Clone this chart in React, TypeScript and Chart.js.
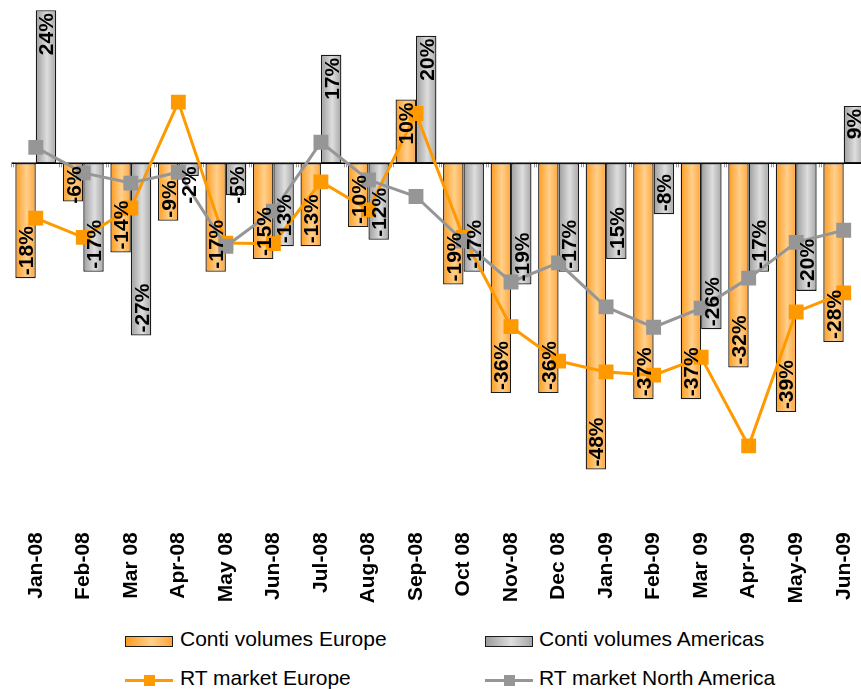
import React, { useEffect, useRef } from "react";
import { Chart, registerables } from "chart.js";

Chart.register(...registerables);

const categories = [
  "Jan-08", "Feb-08", "Mar 08", "Apr-08", "May 08", "Jun-08", "Jul-08", "Aug-08", "Sep-08",
  "Oct 08", "Nov-08", "Dec 08", "Jan-09", "Feb-09", "Mar 09", "Apr-09", "May-09", "Jun-09",
];
const contiEurope = [-18, -6, -14, -9, -17, -15, -13, -10, 10, -19, -36, -36, -48, -37, -37, -32, -39, -28];
const contiAmericas = [24, -17, -27, -2, -5, -13, 17, -12, 20, -17, -19, -17, -15, -8, -26, -17, -20, 9];
const rtEurope = [-8.6, -11.6, -7.0, 9.6, -12.5, -12.6, -2.9, -7.3, 7.8, -11.6, -25.6, -31.0, -32.7, -33.2, -30.4, -44.3, -23.3, -20.3];
const rtNorthAmerica = [2.5, -1.5, -3.1, -1.4, -13.0, -7.5, 3.3, -2.6, -5.2, -12.2, -18.6, -15.6, -22.5, -25.7, -22.7, -18.0, -12.4, -10.5];
const yMin = -55;
const yMax = 25;

const FONT = '"Liberation Sans", Arial, Helvetica, sans-serif';
const ORANGE = "#FF9900";
const GREY = "#969696";

function barGradient(edgeL: string, mid: string, edgeR: string) {
  return (c: any) => {
    const chart = c.chart;
    const meta = chart.getDatasetMeta(c.datasetIndex);
    const el: any = meta && meta.data ? meta.data[c.dataIndex] : null;
    if (!el || typeof el.x !== "number" || !isFinite(el.x) || !el.width) return mid;
    const g = chart.ctx.createLinearGradient(el.x - el.width / 2, 0, el.x + el.width / 2, 0);
    g.addColorStop(0, edgeL);
    g.addColorStop(0.55, mid);
    g.addColorStop(1, edgeR);
    return g;
  };
}

const zeroLinePlugin = {
  id: "zeroLine",
  beforeDatasetsDraw(chart: any) {
    const { ctx, chartArea, scales } = chart;
    const y0 = scales.y.getPixelForValue(0);
    const xs = scales.x;
    const step = xs.getPixelForValue(1) - xs.getPixelForValue(0);
    ctx.save();
    ctx.strokeStyle = "#999";
    ctx.lineWidth = 1;
    for (let i = 0; i <= categories.length; i++) {
      const bx = Math.round(xs.getPixelForValue(i) - step / 2);
      ctx.beginPath();
      ctx.moveTo(bx - 0.5, y0 - 1);
      ctx.lineTo(bx - 0.5, y0 + 4);
      ctx.moveTo(bx + 1.5, y0 - 1);
      ctx.lineTo(bx + 1.5, y0 + 4);
      ctx.stroke();
    }
    ctx.strokeStyle = "#000";
    ctx.lineWidth = 1.5;
    ctx.beginPath();
    ctx.moveTo(chartArea.left, y0);
    ctx.lineTo(chartArea.right, y0);
    ctx.stroke();
    ctx.restore();
  },
};

const barLabelPlugin = {
  id: "barLabels",
  afterDraw(chart: any) {
    const { ctx, scales } = chart;
    const y0 = scales.y.getPixelForValue(0);
    ctx.save();
    ctx.font = `bold 21px ${FONT}`;
    ctx.fillStyle = "#000";
    ctx.textBaseline = "alphabetic";
    [0, 1].forEach((di) => {
      const meta = chart.getDatasetMeta(di);
      const values = chart.data.datasets[di].data as number[];
      meta.data.forEach((el: any, i: number) => {
        const v = values[i];
        const text = `${v}%`;
        const w = ctx.measureText(text).width;
        ctx.save();
        if (v >= 0) {
          ctx.translate(el.x, el.y + 3);
          ctx.rotate(-Math.PI / 2);
          ctx.textAlign = "right";
        } else {
          const barLen = el.y - y0;
          let start = el.y - 3;
          if (w + 6 > barLen) start = y0 + 3 + w;
          ctx.translate(el.x, start);
          ctx.rotate(-Math.PI / 2);
          ctx.textAlign = "left";
        }
        ctx.fillText(text, 0, 7.5);
        ctx.restore();
      });
    });
    ctx.restore();
  },
};

export default function App() {
  const ref = useRef<HTMLCanvasElement | null>(null);

  useEffect(() => {
    if (!ref.current) return;
    const chart = new Chart(ref.current, {
      type: "bar",
      data: {
        labels: categories,
        datasets: [
          {
            type: "bar",
            label: "Conti volumes Europe",
            data: contiEurope,
            backgroundColor: barGradient("#FF9A1E", "#FFD08C", "#FFA53A"),
            borderColor: "#1a1a1a",
            borderWidth: 1.3,
            borderSkipped: false,
            order: 3,
          },
          {
            type: "bar",
            label: "Conti volumes Americas",
            data: contiAmericas,
            backgroundColor: barGradient("#9C9C9C", "#DEDEDE", "#A6A6A6"),
            borderColor: "#1a1a1a",
            borderWidth: 1.3,
            borderSkipped: false,
            order: 3,
          },
          {
            type: "line",
            label: "RT market Europe",
            data: rtEurope,
            borderColor: ORANGE,
            backgroundColor: ORANGE,
            borderWidth: 3,
            pointStyle: "rect",
            pointRadius: 10.5,
            pointBorderWidth: 0,
            pointBackgroundColor: ORANGE,
            tension: 0,
            order: 2,
          },
          {
            type: "line",
            label: "RT market North America",
            data: rtNorthAmerica,
            borderColor: GREY,
            backgroundColor: GREY,
            borderWidth: 3,
            pointStyle: "rect",
            pointRadius: 10.5,
            pointBorderWidth: 0,
            pointBackgroundColor: GREY,
            tension: 0,
            order: 1,
          },
        ],
      },
      options: {
        animation: false,
        responsive: false,
        devicePixelRatio: 1,
        datasets: {
          bar: { categoryPercentage: 0.86, barPercentage: 1.0 },
        },
        layout: { autoPadding: false, padding: { left: 12, right: 2.5, top: 3.8, bottom: 5.8 } },
        plugins: {
          legend: { display: false },
          tooltip: { enabled: false },
        },
        scales: {
          x: {
            grid: { display: false, drawTicks: false },
            border: { display: false },
            ticks: {
              autoSkip: false,
              maxRotation: 90,
              minRotation: 90,
              padding: 18,
              color: "#000",
              font: { family: FONT, size: 21, weight: "bold" },
            },
            afterFit: (s: any) => {
              s.height = 100;
              s.paddingLeft = 0;
              s.paddingRight = 0;
            },
          },
          y: {
            display: false,
            min: yMin,
            max: yMax,
          },
        },
      },
      plugins: [zeroLinePlugin, barLabelPlugin],
    } as any);
    chart.update();
    return () => chart.destroy();
  }, []);

  const legendText: React.CSSProperties = {
    position: "absolute",
    fontFamily: FONT,
    fontSize: 21,
    color: "#000",
    lineHeight: "24px",
    whiteSpace: "nowrap",
  };

  return (
    <div
      style={{
        position: "fixed",
        left: 0,
        top: 0,
        width: 861,
        height: 689,
        overflow: "hidden",
        background: "#fff",
      }}
    >
      <canvas ref={ref} width={870} height={620} style={{ position: "absolute", left: 0, top: 0, width: 870, height: 620 }} />
      <div
        style={{
          position: "absolute",
          left: 125,
          top: 636,
          width: 46,
          height: 9,
          border: "1.3px solid #1a1a1a",
          background: "linear-gradient(to right, #FF9A1E, #FFD08C 55%, #FFA53A)",
        }}
      />
      <div style={{ ...legendText, left: 180, top: 627 }}>Conti volumes Europe</div>
      <div
        style={{
          position: "absolute",
          left: 485,
          top: 636,
          width: 46,
          height: 9,
          border: "1.3px solid #1a1a1a",
          background: "linear-gradient(to right, #9C9C9C, #DEDEDE 55%, #A6A6A6)",
        }}
      />
      <div style={{ ...legendText, left: 539, top: 627 }}>Conti volumes Americas</div>
      <div style={{ position: "absolute", left: 125, top: 679, width: 48, height: 3, background: ORANGE }} />
      <div style={{ position: "absolute", left: 144, top: 675, width: 11, height: 11, background: ORANGE }} />
      <div style={{ ...legendText, left: 180, top: 666 }}>RT market Europe</div>
      <div style={{ position: "absolute", left: 485, top: 679, width: 48, height: 3, background: GREY }} />
      <div style={{ position: "absolute", left: 504, top: 675, width: 11, height: 11, background: GREY }} />
      <div style={{ ...legendText, left: 539, top: 666 }}>RT market North America</div>
    </div>
  );
}
